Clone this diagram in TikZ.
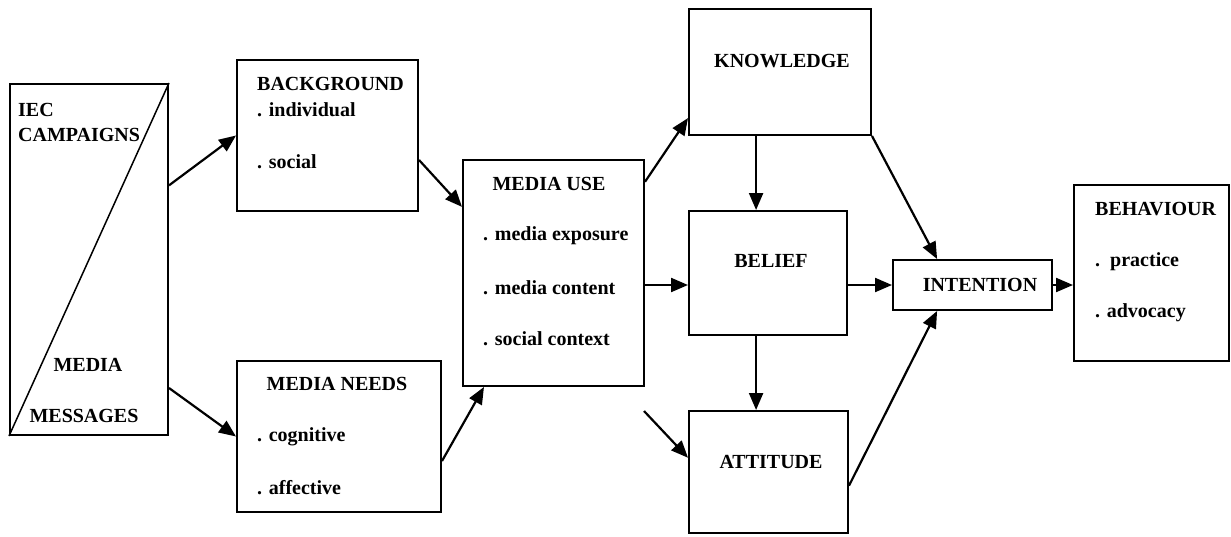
\documentclass[tikz,border=0pt]{standalone}
\usepackage{fontspec}
\setmainfont{Liberation Serif}
\usetikzlibrary{arrows.meta,fit,calc}

\begin{document}
\begin{tikzpicture}[x=1pt,y=-1pt]

      \useasboundingbox (0,0) rectangle (1231,536);

      \begin{scope}[every node/.style={draw,rectangle,line width=2pt,inner sep=0pt}]
        \node[fit={(10,84) (168,435)}]    (iec) {};
        \node[fit={(237,60) (418,211)}]   (bg)  {};
        \node[fit={(237,361) (441,512)}]  (mn)  {};
        \node[fit={(463,160) (644,386)}]  (mu)  {};
        \node[fit={(689,9) (871,135)}]    (kn)  {};
        \node[fit={(689,211) (847,335)}]  (be)  {};
        \node[fit={(689,411) (848,533)}]  (at)  {};
        \node[fit={(893,260) (1052,310)}] (in)  {};
        \node[fit={(1074,185) (1229,361)}] (bh) {};
      \end{scope}

      \draw[line width=1.5pt] (iec.south west) -- (iec.north east);

      \begin{scope}[every node/.style={inner sep=0pt,font=\bfseries\fontsize{20}{24}\selectfont}]
        \node[anchor=west] (iec1) at (18,110)  {IEC};
        \node[anchor=west] (iec2) at (18,135)  {CAMPAIGNS};
        \node              (iec3) at (88,365)  {MEDIA};
        \node              (iec4) at (84,416)  {MESSAGES};

        \node[anchor=west] (bg0) at (257,84)  {BACKGROUND};
        \node[anchor=west] (bg1) at (257,110) {. individual};
        \node[anchor=west] (bg2) at (257,162) {. social};

        \node              (mn0) at (337,384) {MEDIA NEEDS};
        \node[anchor=west] (mn1) at (257,437) {. cognitive};
        \node[anchor=west] (mn2) at (257,488) {. affective};

        \node              (mu0) at (549,184) {MEDIA USE};
        \node[anchor=west] (mu1) at (483,236) {. media exposure};
        \node[anchor=west] (mu2) at (483,288) {. media content};
        \node[anchor=west] (mu3) at (483,339) {. social context};

        \node (kn0) at (782,61)  {KNOWLEDGE};
        \node (be0) at (771,261) {BELIEF};
        \node (at0) at (771,462) {ATTITUDE};
        \node (in0) at (980,285) {INTENTION};

        \node[anchor=west] (bh0) at (1095,209) {BEHAVIOUR};
        \node[anchor=west] (bh1) at (1095,262) {.\ \ practice};
        \node[anchor=west] (bh2) at (1095,313) {. advocacy};
      \end{scope}

      \coordinate (free) at (644,411);

      \begin{scope}[every edge/.style={draw,line width=2.2pt,-{Triangle[length=17pt,width=14pt]}}]
        \path ($(iec.north east)!0.29!(iec.south east)$) edge (bg.west);
        \path ($(iec.north east)!0.864!(iec.south east)$) edge (mn.west);
        \path ($(bg.north east)!0.66!(bg.south east)$) edge ($(mu.north west)!0.21!(mu.south west)$);
        \path ($(mn.north east)!0.66!(mn.south east)$) edge ($(mu.south west)!0.12!(mu.south east)$);
        \path ($(mu.north east)!0.10!(mu.south east)$) edge ($(kn.north west)!0.86!(kn.south west)$);
        \path (mu.east |- in.west) edge (be.west |- in.west);
        \path (be.east |- in.west) edge (in.west);
        \path ($(kn.south west)!0.37!(kn.south east)$) coordinate (kb) edge (kb |- be.north);
        \path (kb |- be.south) edge (kb |- at.north);
        \path (free) edge ($(at.north west)!0.385!(at.south west)$);
        \path (kn.south east) edge ($(in.north west)!0.28!(in.north east)$);
        \path ($(at.north east)!0.61!(at.south east)$) edge ($(in.south west)!0.28!(in.south east)$);
        \path (in.east) edge (bh.west |- in.east);
      \end{scope}

    \end{tikzpicture}
\end{document}
